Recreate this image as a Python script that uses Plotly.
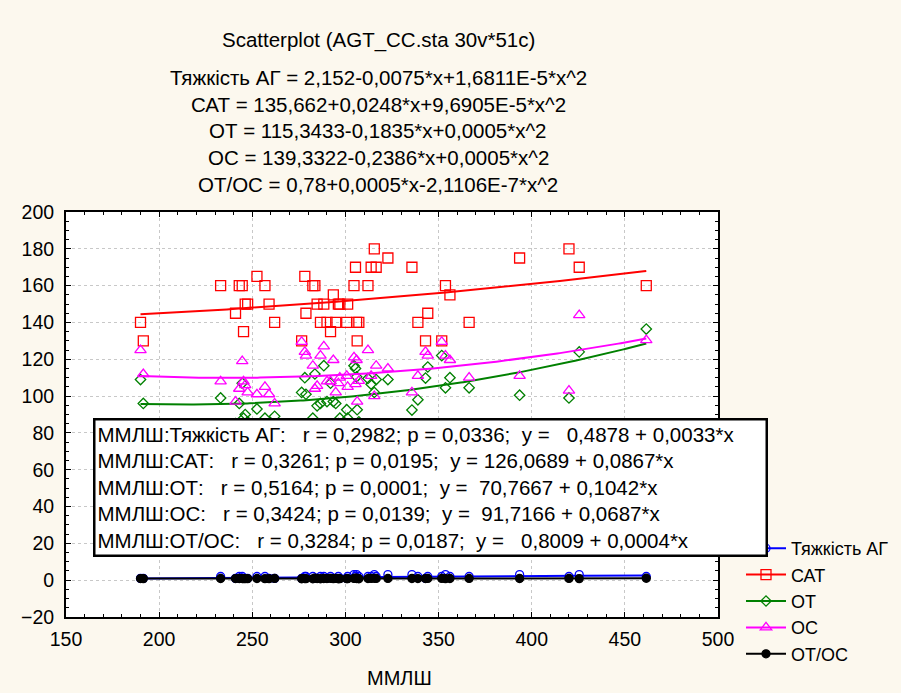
import numpy as np
import plotly.graph_objects as go

# ---------------- data ----------------
mmlsh = [190.0, 191.5, 233.0, 241.0, 243.0, 244.6, 245.3, 246.2, 247.5, 252.5,
         256.8, 259.0, 262.0, 276.5, 278.2, 278.8, 282.5, 283.6, 284.8, 286.6,
         288.4, 290.1, 292.0, 293.5, 294.8, 296.2, 297.0, 300.7, 301.2, 304.6,
         305.4, 306.0, 306.3, 307.2, 312.1, 313.8, 315.5, 316.5, 322.8, 335.7,
         338.9, 343.0, 344.2, 351.7, 353.7, 356.1, 366.4, 393.5, 420.0, 425.5,
         461.5]
sat = [140, 130, 160, 145, 160, 160, 135, 150, 150, 165,
       160, 150, 140, 130, 165, 145, 160, 160, 150, 140,
       150, 140, 135, 155, 140, 150, 150, 140, 150, 160,
       170, 140, 130, 140, 160, 170, 180, 170, 175, 170,
       140, 130, 145, 130, 160, 155, 140, 175, 180, 170,
       160]
ot = [109, 96, 99, 85, 96, 107, 88, 90, 86, 93,
      88, 84, 89, 102, 110, 101, 88, 112, 94.7, 96,
      116.5, 97, 107, 97, 96, 85, 88, 92.6, 88, 116.5,
      115, 110.5, 92.6, 86, 109.6, 106.5, 102, 109, 109, 92.4,
      98, 109.8, 115.8, 122, 104.5, 110, 104.5, 100.5, 99, 124,
      136.4]
oc = [125, 112, 108, 97, 104, 119, 108, 106, 102, 101,
      105, 101, 96, 129.5, 124, 122, 116.5, 104, 105.6, 122,
      127, 108, 108, 119.6, 102, 107, 110, 111, 105, 121,
      106.5, 119.6, 97, 108.3, 125, 111, 100, 116.5, 115, 102,
      111, 124, 122, 129.5, 122, 119.6, 110, 111, 103, 144,
      130.4]
ag = [1, 1, 2, 1, 2, 2, 1, 1, 1, 2,
      2, 1, 1, 1, 2, 2, 2, 1, 1, 2,
      2, 1, 2, 1, 1, 2, 1, 1, 2, 3,
      2, 3, 1, 2, 2, 2, 3, 2, 3, 3,
      2, 1, 2, 2, 3, 2, 2, 3, 2, 3,
      2]
ot_oc = [0.87, 0.86, 0.92, 0.88, 0.92, 0.90, 0.81, 0.85, 0.84, 0.92,
         0.84, 0.83, 0.93, 0.79, 0.89, 0.83, 0.76, 1.08, 0.90, 0.79,
         0.92, 0.90, 0.99, 0.81, 0.94, 0.79, 0.80, 0.83, 0.84, 0.96,
         1.08, 0.92, 0.95, 0.79, 0.88, 0.96, 1.02, 0.94, 0.95, 0.91,
         0.88, 0.89, 0.95, 0.94, 0.86, 0.92, 0.95, 0.91, 0.96, 0.86,
         1.05]

series_names = ["Тяжкість АГ", "САТ", "ОТ", "ОС", "ОТ/ОС"]
series_values = [ag, sat, ot, oc, ot_oc]
x_title = "ММЛШ"

title_lines = [
    "Scatterplot (AGT_CC.sta 30v*51c)",
    "Тяжкість АГ = 2,152-0,0075*x+1,6811E-5*x^2",
    "САТ = 135,662+0,0248*x+9,6905E-5*x^2",
    "ОТ = 115,3433-0,1835*x+0,0005*x^2",
    "ОС = 139,3322-0,2386*x+0,0005*x^2",
    "ОТ/ОС = 0,78+0,0005*x-2,1106E-7*x^2",
]
stat_lines = [
    "ММЛШ:Тяжкість АГ:   r = 0,2982; p = 0,0336;  y =   0,4878 + 0,0033*x",
    "ММЛШ:САТ:   r = 0,3261; p = 0,0195;  y = 126,0689 + 0,0867*x",
    "ММЛШ:ОТ:   r = 0,5164; p = 0,0001;  y =  70,7667 + 0,1042*x",
    "ММЛШ:ОС:   r = 0,3424; p = 0,0139;  y =  91,7166 + 0,0687*x",
    "ММЛШ:ОТ/ОС:   r = 0,3284; p = 0,0187;  y =   0,8009 + 0,0004*x",
]

# ---------------- styles ----------------
colors = ["#0000FF", "#FF0000", "#008000", "#FF00FF", "#000000"]
symbols = ["circle-open", "square-open", "diamond-open", "triangle-up-open", "circle"]
sizes = [8, 10, 8, 10, 8]
FONT = "Liberation Sans, Arial, sans-serif"

fig = go.Figure()
x = np.array(mmlsh, dtype=float)
xs = np.linspace(x.min(), x.max(), 200)
for name, vals, col, sym, sz in zip(series_names, series_values, colors, symbols, sizes):
    y = np.array(vals, dtype=float)
    fig.add_trace(go.Scatter(x=x, y=y, mode="markers", showlegend=False,
                             marker=dict(symbol=sym, size=sz, color=col,
                                         line=dict(color=col, width=1.3))))
    coef = np.polyfit(x, y, 2)
    fig.add_trace(go.Scatter(x=xs, y=np.polyval(coef, xs), mode="lines",
                             showlegend=False, line=dict(color=col, width=2)))
    # legend entry (line + marker)
    fig.add_trace(go.Scatter(x=[None], y=[None], mode="lines+markers", name=name,
                             marker=dict(symbol=sym, size=sz, color=col,
                                         line=dict(color=col, width=1.3)),
                             line=dict(color=col, width=2)))

W, H = 901, 693
L, R, T, B = 66, 183, 212, 76
pw, ph = W - L - R, H - T - B

def px2x(px):
    return (px - L) / pw

def py2y(py):
    return (H - B - py) / ph

annotations = []
ys = [40, 77, 104, 130, 157, 184]
for txt, yy in zip(title_lines, ys):
    annotations.append(dict(text=txt, x=px2x(378), y=py2y(yy), xref="paper", yref="paper",
                            xanchor="center", yanchor="middle", showarrow=False,
                            font=dict(family=FONT, size=20.5, color="black")))

# x-axis title
annotations.append(dict(text=x_title, x=px2x(399), y=py2y(678), xref="paper", yref="paper",
                        xanchor="center", yanchor="middle", showarrow=False,
                        font=dict(family=FONT, size=20, color="black")))

box_text = "<br>".join(s.replace("  ", "\u00a0\u00a0") for s in stat_lines)
annotations.append(dict(text=box_text, x=px2x(93), y=py2y(418), xref="paper", yref="paper",
                        xanchor="left", yanchor="top", align="left", showarrow=False,
                        width=666, bgcolor="white", bordercolor="black", borderwidth=2.5,
                        borderpad=2,
                        font=dict(family=FONT, size=20.5, color="black")))

fig.update_layout(
    width=W, height=H,
    margin=dict(l=L, r=R, t=T, b=B, autoexpand=False),
    paper_bgcolor="#FCF8EE",
    plot_bgcolor="white",
    font=dict(family=FONT, size=19, color="black"),
    annotations=annotations,
    legend=dict(x=px2x(741), y=py2y(530), xanchor="left", yanchor="top",
                bgcolor="rgba(0,0,0,0)", font=dict(family=FONT, size=18),
                itemwidth=40, tracegroupgap=0),
    xaxis=dict(range=[150, 500], dtick=50, tick0=150, showline=True, linecolor="black",
               linewidth=2, mirror="ticks", ticks="inside", ticklen=5, tickcolor="black",
               showgrid=True, gridcolor="#C8C8C8", griddash="dot", zeroline=False,
               automargin=False,
               minor=dict(ticks="inside", dtick=10, ticklen=3, tickcolor="black", showgrid=False),
               ticklabelstandoff=4,
               tickfont=dict(family=FONT, size=19.5)),
    yaxis=dict(range=[-20, 200], dtick=20, tick0=0, showline=True, linecolor="black",
               linewidth=2, mirror="ticks", ticks="inside", ticklen=5, tickcolor="black",
               showgrid=True, gridcolor="#C8C8C8", griddash="dot", zeroline=False,
               automargin=False,
               minor=dict(ticks="inside", dtick=5, ticklen=3, tickcolor="black", showgrid=False),
               ticklabelstandoff=6,
               tickfont=dict(family=FONT, size=19.5)),
)

fig.write_html("out.html")
